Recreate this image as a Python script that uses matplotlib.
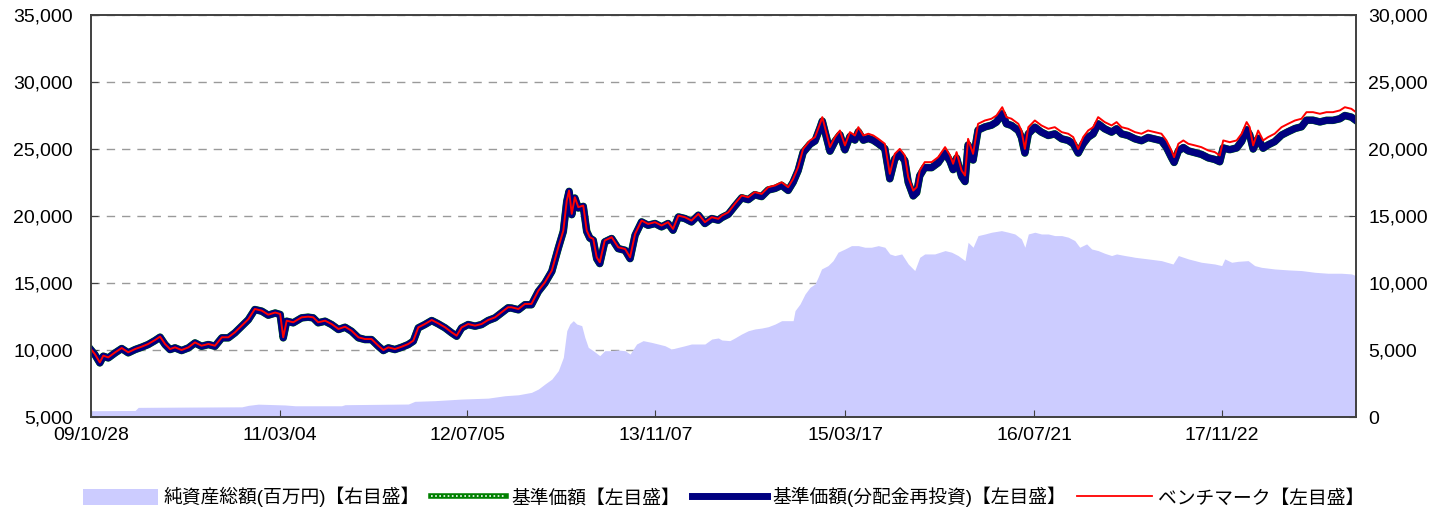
import pandas as pd
import matplotlib
matplotlib.use("Agg")
import matplotlib.pyplot as plt
import matplotlib.dates as mdates
from matplotlib.ticker import MultipleLocator, StrMethodFormatter
from matplotlib.patches import Patch
from matplotlib.lines import Line2D
from matplotlib.legend_handler import HandlerTuple

plt.rcParams['font.family'] = ['Liberation Sans', 'Noto Sans CJK JP', 'DejaVu Sans']

# fund start date, samples are given as days elapsed since then
start = pd.Timestamp("2009-10-28")

# line series
line_days = [0, 10, 23, 32, 45, 63, 80, 97, 115, 132, 149, 167, 180, 193, 206, 219, 236, 254, 271, 288,
             306, 323, 341, 358, 375, 393, 410, 427, 445, 462, 480, 493, 501, 510, 527,
             549, 566, 579, 592, 610, 627, 645, 662, 679, 697, 714, 731, 749, 762, 775, 792, 810, 827,
             840, 853, 870, 888, 905, 923, 940, 953, 966, 983, 1001, 1018, 1035, 1053, 1070, 1087,
             1096, 1114, 1131, 1148, 1166, 1183, 1201, 1218, 1231, 1240, 1246, 1253, 1261, 1270, 1283,
             1292, 1300, 1309, 1318, 1326, 1339, 1357, 1374, 1392, 1405, 1418, 1435, 1452, 1470, 1487,
             1504, 1517, 1531, 1548, 1565, 1583, 1600, 1618, 1635,
             1644, 1661, 1678, 1696, 1713, 1730, 1748, 1765, 1783, 1800, 1817, 1830, 1843, 1856, 1874,
             1887, 1900, 1906, 1917, 1926, 1939, 1952, 1965, 1978, 1991, 2000, 2013, 2026, 2039, 2052,
             2069, 2082, 2095, 2108, 2121, 2130, 2143, 2152, 2160, 2173,
             2191, 2208, 2226, 2239, 2247, 2256, 2269, 2278, 2286, 2299, 2312, 2330, 2347, 2360, 2375,
             2386, 2399, 2417, 2425, 2434, 2443, 2460, 2477, 2495, 2512, 2530, 2547, 2560, 2573, 2586,
             2599, 2612, 2625, 2642, 2660, 2673, 2686, 2703, 2721,
             2738, 2755, 2773, 2790, 2803, 2816, 2823, 2834, 2847, 2860, 2877, 2894, 2912, 2929, 2942,
             2951, 2968, 2986, 2999, 3012, 3020, 3029, 3042, 3055, 3068, 3085, 3103, 3120, 3138, 3155,
             3168, 3185, 3203, 3220, 3237, 3255, 3268, 3285, 3297]

benchmark = [10050, 9700, 9080, 9580, 9450, 9830, 10150, 9830, 10075, 10250, 10450, 10750, 11000, 10450, 10075,
             10200, 10000, 10200, 10570, 10320, 10450, 10320, 10950, 10950, 11320, 11820, 12300, 13060, 12940,
             12640, 12800, 12690, 10950, 12190, 12070,
             12440, 12490, 12440, 12070, 12190, 11940, 11570, 11740, 11440, 10950, 10820, 10820, 10320, 10000,
             10200, 10075, 10250, 10450, 10700, 11690, 11940, 12240, 11990, 11690, 11320, 11070, 11690, 11940,
             11820, 11940, 12240, 12440, 12810, 13190,
             13190, 13060, 13440, 13440, 14430, 15050, 15930, 17670, 18910, 21150, 21900, 20160, 21400, 20660,
             20780, 18910, 18420, 18290, 16920, 16550, 18170, 18420, 17670, 17540, 16920, 18660, 19660, 19410,
             19540, 19290, 19540, 19040, 20030, 19910, 19660, 20160, 19540, 19910, 19790,
             20030, 20280, 20910, 21530, 21400, 21780, 21650, 22150, 22280, 22520, 22150, 22770, 23650, 25010,
             25640, 25890, 26880, 27380, 26140, 25150, 25890, 26380, 25270, 26260, 26010, 26630, 26010, 26140,
             26010, 25760, 25390, 23150, 24640, 25010, 24520, 22900, 21900, 22150, 23400, 24020,
             24020, 24390, 25140, 24520, 23900, 24770, 23400, 23020, 25760, 24640, 26880, 27130, 27260, 27500,
             28120, 27380, 27260, 26880, 26380, 25010, 26630, 27130, 26760, 26510, 26630, 26260, 26140, 25890,
             25010, 25890, 26380, 26630, 27380, 27010, 26760, 27010, 26630, 26510, 26260,
             26140, 26380, 26260, 26140, 25640, 24890, 24390, 25390, 25640, 25390, 25270, 25140, 24890, 24770,
             24520, 25640, 25510, 25640, 26140, 27010, 26630, 25270, 26380, 25640, 25890, 26140, 26630, 26880,
             27130, 27260, 27750, 27750, 27630, 27750, 27750, 27880, 28120, 28000, 27750]

nav_reinvest = [10010, 9660, 9040, 9540, 9410, 9790, 10110, 9790, 10035, 10210, 10410, 10710, 10960, 10410, 10035,
                10160, 9960, 10160, 10530, 10280, 10410, 10280, 10910, 10910, 11280, 11780, 12260, 13020, 12900,
                12600, 12760, 12650, 10910, 12150, 12030,
                12400, 12450, 12400, 12030, 12150, 11900, 11530, 11700, 11400, 10910, 10780, 10780, 10280, 9960,
                10160, 10035, 10210, 10410, 10660, 11650, 11900, 12200, 11950, 11650, 11280, 11030, 11650, 11900,
                11780, 11900, 12200, 12400, 12770, 13150,
                13130, 13000, 13380, 13380, 14370, 14990, 15870, 17610, 18850, 21090, 21840, 20100, 21340, 20600,
                20720, 18850, 18360, 18190, 16820, 16450, 18070, 18320, 17570, 17440, 16820, 18560, 19560, 19310,
                19440, 19190, 19440, 18940, 19930, 19810, 19560, 20060, 19440, 19810, 19690,
                19880, 20130, 20740, 21360, 21220, 21590, 21450, 21940, 22060, 22290, 21910, 22520, 23390, 24740,
                25360, 25600, 26580, 27080, 25830, 24840, 25570, 26060, 24940, 25930, 25670, 26290, 25660, 25790,
                25650, 25400, 25020, 22780, 24260, 24630, 24130, 22510, 21500, 21750, 23000, 23620,
                23610, 23970, 24710, 24080, 23460, 24320, 22950, 22570, 25300, 24180, 26410, 26650, 26780, 27010,
                27630, 26880, 26760, 26380, 25880, 24700, 26130, 26630, 26260, 26010, 26130, 25760, 25640, 25390,
                24700, 25390, 25880, 26130, 26880, 26510, 26260, 26510, 26130, 26010, 25760,
                25620, 25860, 25740, 25620, 25120, 24370, 24000, 24860, 25110, 24860, 24730, 24600, 24340, 24220,
                24050, 25080, 24950, 25080, 25570, 26440, 26060, 25000, 25800, 25060, 25310, 25550, 26040, 26290,
                26530, 26660, 27150, 27150, 27020, 27140, 27140, 27260, 27500, 27380, 27130]

# no distributions paid, so the plain NAV follows the reinvested one
nav = nav_reinvest

# net assets (million yen, right axis)
asset_days = [0, 115, 123, 245, 393, 410, 436, 506, 532, 653, 662, 827, 844, 896, 966, 1035, 1079, 1114,
              1148, 1166, 1183, 1201, 1218, 1231, 1240, 1248, 1257, 1266, 1279, 1287, 1296, 1309, 1326, 1339,
              1357, 1374, 1392, 1405, 1422, 1439, 1461, 1478, 1496, 1513, 1531, 1548, 1565, 1583, 1600, 1618,
              1635, 1644, 1665, 1678, 1696, 1713, 1730, 1748, 1765, 1783, 1800, 1830, 1835, 1848, 1861, 1874,
              1887, 1895, 1904, 1921, 1934, 1947, 1965, 1982, 2000, 2017, 2034, 2052, 2069, 2082, 2095, 2113,
              2130, 2147, 2160, 2173, 2199, 2226, 2243, 2260, 2278, 2286, 2299, 2312, 2330, 2347, 2373, 2391,
              2408, 2425, 2434, 2443, 2460, 2477, 2495, 2512, 2530, 2547, 2564, 2577, 2595, 2608, 2625, 2642,
              2660, 2673, 2695, 2712, 2721, 2755, 2790, 2820, 2834, 2860, 2894, 2929, 2947, 2955, 2973, 2990,
              3016, 3033, 3051, 3085, 3120, 3155, 3190, 3224, 3259, 3285, 3297]
net_assets = [470, 490, 720, 740, 760, 870, 960, 900, 840, 840, 920, 970, 1170, 1220, 1340, 1410, 1590, 1660,
              1840, 2090, 2460, 2830, 3460, 4450, 6440, 6940, 7190, 6940, 6820, 5950, 5200, 4950, 4580, 4950,
              4950, 5000, 4950, 4700, 5450, 5700, 5570, 5450, 5320, 5070, 5200, 5320, 5450, 5450, 5450, 5820,
              5900, 5750, 5700, 5900, 6200, 6440, 6570, 6640, 6740, 6940, 7190, 7190, 7940, 8440, 9180, 9680,
              9930, 10430, 11050, 11300, 11670, 12300, 12540, 12790, 12790, 12670, 12670, 12790, 12670, 12170,
              12050, 12170, 11420, 10930, 11920, 12170, 12170, 12420, 12300, 12050, 11670, 13040, 12670, 13540,
              13660, 13790, 13910, 13790, 13660, 13290, 12670, 13660, 13790, 13660, 13660, 13540, 13540, 13420,
              13170, 12670, 12920, 12540, 12420, 12220, 12050, 12170, 12050, 11970, 11920, 11800, 11670, 11420,
              12050, 11800, 11550, 11420, 11300, 11800, 11550, 11620, 11670, 11300, 11170, 11050, 10980, 10930,
              10800, 10730, 10730, 10680, 10550]

tick_dates = ["2009-10-28", "2011-03-04", "2012-07-05", "2013-11-07", "2015-03-17", "2016-07-21", "2017-11-22"]

labels = ["純資産総額(百万円)【右目盛】", "基準価額【左目盛】", "基準価額(分配金再投資)【左目盛】", "ベンチマーク【左目盛】"]

line_x = start + pd.to_timedelta(line_days, unit="D")
asset_x = start + pd.to_timedelta(asset_days, unit="D")

fig, ax = plt.subplots(figsize=(14.47, 5.09), dpi=100)
fig.subplots_adjust(left=0.0629, right=0.9371, top=0.9705, bottom=0.1807)
ax2 = ax.twinx()

# area + grid on the right axis, lines on the left axis drawn above it
ax.set_zorder(ax2.get_zorder() + 1)
ax.patch.set_visible(False)

ax2.fill_between(asset_x, net_assets, 0, color="#ccccff", linewidth=0, zorder=1)
ax2.set_axisbelow(True)
ax2.yaxis.grid(True, color="#9a9a9a", linestyle=(0, (6, 5)), linewidth=1.0)

ax.plot(line_x, nav, color="#008000", linewidth=5.4)
ax.plot(line_x, nav_reinvest, color="#000080", linewidth=5.0)
ax.plot(line_x, benchmark, color="#ff0000", linewidth=1.4)

ax.set_xlim(line_x[0], line_x[-1])
ax.set_ylim(5000, 35000)
ax2.set_ylim(0, 30000)
ax.yaxis.set_major_locator(MultipleLocator(5000))
ax2.yaxis.set_major_locator(MultipleLocator(5000))
ax.yaxis.set_major_formatter(StrMethodFormatter("{x:,.0f}"))
ax2.yaxis.set_major_formatter(StrMethodFormatter("{x:,.0f}"))

ax.set_xticks(pd.to_datetime(tick_dates))
ax.xaxis.set_major_formatter(mdates.DateFormatter("%y/%m/%d"))

ax.tick_params(axis="y", direction="in", length=5, pad=13, labelsize=14, color="#404040")
ax2.tick_params(axis="y", direction="in", length=5, pad=9, labelsize=14, color="#404040")
ax.tick_params(axis="x", direction="in", length=5, pad=7, labelsize=14, color="#404040")
for a in (ax, ax2):
    for s in a.spines.values():
        s.set_color("#404040")
        s.set_linewidth(1.2)

handles = [
    Patch(facecolor="#ccccff", edgecolor="none"),
    (Line2D([], [], color="#008000", linewidth=4), Line2D([], [], color="white", linewidth=1.2, linestyle=(0, (1, 1.5)))),
    Line2D([], [], color="#000080", linewidth=5),
    Line2D([], [], color="#ff0000", linewidth=1.3),
]
fig.legend(handles, labels, ncol=4, loc="lower center", bbox_to_anchor=(0.5, -0.03), frameon=False,
           fontsize=13.5, handlelength=4.0, handleheight=1.0, handletextpad=0.3, columnspacing=0.6,
           handler_map={tuple: HandlerTuple(ndivide=1)})

fig.savefig("out.png", dpi=100)
